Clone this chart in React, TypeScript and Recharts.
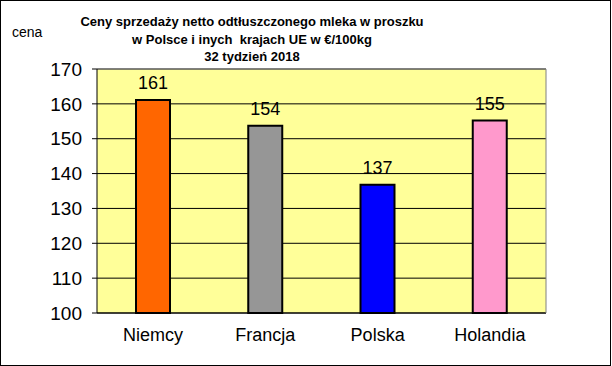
import React from 'react';
import {
  BarChart,
  Bar,
  XAxis,
  YAxis,
  CartesianGrid,
  Cell,
  LabelList,
  ReferenceLine,
} from 'recharts';

const countries = ['Niemcy', 'Francja', 'Polska', 'Holandia'];
const prices = [161.1, 153.7, 136.8, 155.2];
const barColors = ['#FF6600', '#969696', '#0000FF', '#FF99CC'];
const yTicks = [100, 110, 120, 130, 140, 150, 160, 170];
const edgeTicks = [0, 1, 2, 3, 4];
const titleLines = [
  'Ceny sprzedaży netto odtłuszczonego mleka w proszku',
  'w Polsce i inych  krajach UE w €/100kg',
  '32 tydzień 2018',
];

const FONT = "Arial, 'Liberation Sans', sans-serif";

const data = countries.map((name, i) => ({ name, cena: prices[i] }));

export default function App() {
  return (
    <div
      style={{
        position: 'absolute',
        left: 0,
        top: 0,
        width: 612,
        height: 366,
        background: '#fff',
        fontFamily: FONT,
      }}
    >
      <BarChart
        width={612}
        height={366}
        data={data}
        margin={{ top: 69, right: 65, left: 0, bottom: 0 }}
      >
        <CartesianGrid
          vertical={false}
          stroke="#000"
          fill="#FFFF99"
          fillOpacity={1}
        />
        <XAxis
          xAxisId="edges"
          type="number"
          domain={[0, 4]}
          ticks={edgeTicks}
          height={0}
          axisLine={false}
          tickLine={{ stroke: '#000' }}
          tickSize={6}
          tickFormatter={() => ''}
        />
        <XAxis
          dataKey="name"
          height={53}
          axisLine={{ stroke: '#000' }}
          tickLine={false}
          tickMargin={9}
          tick={{ fill: '#000', fontSize: 18, fontFamily: FONT }}
        />
        <YAxis
          domain={[100, 170]}
          ticks={yTicks}
          width={97}
          interval={0}
          axisLine={{ stroke: '#000' }}
          tickLine={{ stroke: '#000' }}
          tickSize={5}
          tickMargin={10}
          tick={{ fill: '#000', fontSize: 19, fontFamily: FONT }}
        />
        <YAxis
          yAxisId="right"
          orientation="right"
          domain={[100, 170]}
          width={1}
          tick={false}
          tickLine={false}
          axisLine={{ stroke: '#808080' }}
        />
        <ReferenceLine y={170} stroke="#808080" />
        <Bar
          dataKey="cena"
          barSize={34}
          stroke="#000"
          strokeWidth={2}
          isAnimationActive={false}
        >
          {data.map((_, i) => (
            <Cell key={`c-${i}`} fill={barColors[i]} />
          ))}
          <LabelList
            dataKey="cena"
            position="top"
            offset={11}
            formatter={(v: any) => Math.round(Number(v))}
            style={{ fill: '#000', fontSize: 18, fontFamily: FONT }}
          />
        </Bar>
      </BarChart>

      <div
        style={{
          position: 'absolute',
          left: 52,
          top: 13,
          width: 400,
          textAlign: 'center',
          fontWeight: 'bold',
          fontSize: 13,
          lineHeight: '17.5px',
          color: '#000',
        }}
      >
        {titleLines.map((t) => (
          <div key={t} style={{ whiteSpace: 'pre' }}>
            {t}
          </div>
        ))}
      </div>
      <div
        style={{
          position: 'absolute',
          left: 12,
          top: 24,
          fontSize: 14,
          color: '#000',
        }}
      >
        cena
      </div>
      <div
        style={{
          position: 'absolute',
          left: 0,
          top: 0,
          width: 611,
          height: 366,
          boxSizing: 'border-box',
          border: '1px solid #000',
          pointerEvents: 'none',
        }}
      />
    </div>
  );
}
